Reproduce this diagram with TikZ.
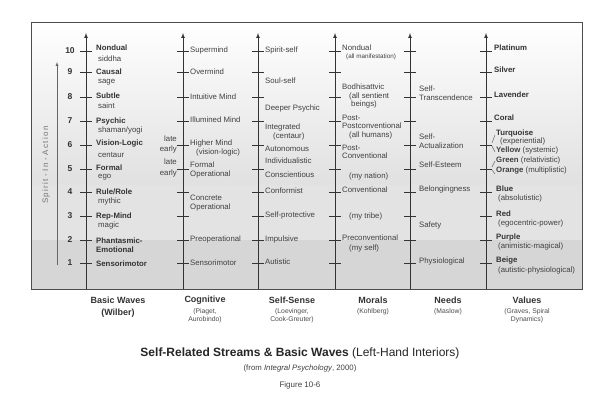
\documentclass[tikz,border=0pt]{standalone}
\usepackage{fontspec}
\setmainfont{Liberation Sans}
\begin{document}
\begin{tikzpicture}[x=1pt,y=-1pt,
  lab/.style={font=\fontsize{7.8}{8.6}\selectfont,text=black!75,anchor=west,inner sep=0pt,align=left},
  blab/.style={font=\bfseries\fontsize{7.8}{9.2}\selectfont,text=black!80,anchor=west,inner sep=0pt,align=left},
  small/.style={font=\fontsize{6.3}{7}\selectfont,text=black!75,anchor=west,inner sep=0pt,align=left},
  axis/.style={draw=black!80,line width=0.7pt,-latex},
  tk/.style={draw=black!80,line width=0.5pt},
  hd/.style={font=\bfseries\fontsize{9}{10}\selectfont,text=black!80,inner sep=0pt,align=center},
  sub/.style={font=\fontsize{6.8}{7.8}\selectfont,text=black!70,inner sep=0pt,align=center}]
\useasboundingbox (0,0) rectangle (600,403);
\fill[white] (0,0) rectangle (600,403);
% background
\shade[top color=white,bottom color=black!12] (31,22) rectangle (582,185);
\fill[black!11] (31,185) rectangle (582,240);
\fill[black!16] (31,240) rectangle (582,289);
\draw[black!70,line width=0.6pt] (31,22) rectangle (582,289);
% Spirit-in-Action
\draw[black!60,-latex] (57,265) -- (57,62);
\node[rotate=90,font=\fontsize{8}{8}\selectfont,text=black!55] (sia) at (46,165) {S\,p\,i\,r\,i\,t\,\,-\,\,I\,n\,\,-\,\,A\,c\,t\,i\,o\,n};
% axes
\foreach \x/\n in {86/a,183/b,258/c,335/d,410/e,486/f}{
  \coordinate (\n0) at (\x,289); \coordinate (\n1) at (\x,33);
  \draw[axis] (\n0) -- (\n1);
  \foreach \y in {51,72,97,121,145,169,192,216,240,263}{\draw[tk] (\x-6,\y) -- (\x+6,\y);}
}
% numbers
\foreach \y/\v in {51/10,72/9,97/8,121/7,145/6,169/5,192/4,216/3,240/2,263/1}{
  \node[font=\bfseries\fontsize{8.5}{9}\selectfont,text=black!80] at (70,\y) {\v};}
% basic waves
\node[blab] at (96,48) {Nondual}; \node[lab] at (98,59) {siddha};
\node[blab] at (96,72) {Causal}; \node[lab] at (98,82) {sage};
\node[blab] at (96,96) {Subtle}; \node[lab] at (98,106) {saint};
\node[blab] at (96,121) {Psychic}; \node[lab] at (98,130) {shaman/yogi};
\node[blab] at (96,144) {Vision-Logic}; \node[lab] at (98,155) {centaur};
\node[blab] at (96,168) {Formal}; \node[lab] at (98,177) {ego};
\node[blab] at (96,192) {Rule/Role}; \node[lab] at (98,201) {mythic};
\node[blab] at (96,216) {Rep-Mind}; \node[lab] at (98,225) {magic};
\node[blab] at (96,245) {Phantasmic-\\Emotional};
\node[blab] at (96,264) {Sensorimotor};
% cognitive
\node[lab] at (190,50) {Supermind};
\node[lab] at (190,72) {Overmind};
\node[lab] at (190,97) {Intuitive Mind};
\node[lab] at (190,120) {Illumined Mind};
\node[lab] at (190,148) {Higher Mind\\\hspace*{6pt}(vision-logic)};
\node[lab] at (190,170) {Formal\\Operational};
\node[lab] at (190,203) {Concrete\\Operational};
\node[lab] at (190,239) {Preoperational};
\node[lab] at (190,263) {Sensorimotor};
\foreach \y/\t in {139/late,149/early,162/late,173/early}{\node[lab,anchor=east] at (177,\y) {\t};}
% self-sense
\node[lab] at (265,50) {Spirit-self};
\node[lab] at (265,81) {Soul-self};
\node[lab] at (265,108) {Deeper Psychic};
\node[lab] at (265,132) {Integrated\\\hspace*{8pt}(centaur)};
\node[lab] at (265,149) {Autonomous};
\node[lab] at (265,161) {Individualistic};
\node[lab] at (265,175) {Conscientious};
\node[lab] at (265,191) {Conformist};
\node[lab] at (265,215) {Self-protective};
\node[lab] at (265,239) {Impulsive};
\node[lab] at (265,262) {Autistic};
% morals
\node[lab] at (342,48) {Nondual}; \node[small] at (346,57) {(all manifestation)};
\node[lab] at (342,96) {Bodhisattvic\\\hspace*{7pt}(all sentient\\\hspace*{9pt}beings)};
\node[lab] at (342,127) {Post-\\Postconventional\\\hspace*{7pt}(all humans)};
\node[lab] at (342,152) {Post-\\Conventional};
\node[lab] at (349,176) {(my nation)};
\node[lab] at (342,190) {Conventional};
\node[lab] at (349,216) {(my tribe)};
\node[lab] at (342,238) {Preconventional};
\node[lab] at (349,248) {(my self)};
% needs
\node[lab] at (419,93) {Self-\\Transcendence};
\node[lab] at (419,141) {Self-\\Actualization};
\node[lab] at (419,165) {Self-Esteem};
\node[lab] at (419,189) {Belongingness};
\node[lab] at (419,225) {Safety};
\node[lab] at (419,261) {Physiological};
% values
\node[blab] at (494,48) {Platinum};
\node[blab] at (494,70) {Silver};
\node[blab] at (494,95) {Lavender};
\node[blab] at (494,118) {Coral};
\node[blab] at (496,133) {Turquoise}; \node[lab] at (500,141) {(experiential)};
\node[lab] at (496,150) {\textbf{Yellow} (systemic)};
\node[lab] at (496,160) {\textbf{Green} (relativistic)};
\node[lab] at (496,171) {\textbf{Orange} (multiplistic)};
\node[blab] at (496,189) {Blue}; \node[lab] at (498,198) {(absolutistic)};
\node[blab] at (496,214) {Red}; \node[lab] at (498,223) {(egocentric-power)};
\node[blab] at (496,237) {Purple}; \node[lab] at (498,246) {(animistic-magical)};
\node[blab] at (496,261) {Beige}; \node[lab] at (498,270) {(autistic-physiological)};
\draw[tk,black!60] (492,143) -- (495,135); \draw[tk,black!60] (492,146) -- (495,152);
\draw[tk,black!60] (492,167) -- (495,161); \draw[tk,black!60] (492,170) -- (495,174);
% column headings
\node[hd] at (118,300) {Basic Waves}; \node[hd] at (118,313) {(Wilber)};
\node[hd] at (205,300) {Cognitive}; \node[sub] at (205,316) {(Piaget,\\Aurobindo)};
\node[hd] at (292,300) {Self-Sense}; \node[sub] at (292,316) {(Loevinger,\\Cook-Greuter)};
\node[hd] at (373,300) {Morals}; \node[sub] at (373,312) {(Kohlberg)};
\node[hd] at (448,300) {Needs}; \node[sub] at (448,312) {(Maslow)};
\node[hd] at (527,300) {Values}; \node[sub] at (527,316) {(Graves, Spiral\\Dynamics)};
% title
\node[font=\fontsize{12}{14}\selectfont,text=black!85] at (300,353) {\textbf{Self-Related Streams \& Basic Waves} (Left-Hand Interiors)};
\node[font=\fontsize{7.8}{9}\selectfont,text=black!75] at (300,368) {(from \textit{Integral Psychology}, 2000)};
\node[font=\fontsize{8}{9}\selectfont,text=black!75] at (300,385) {Figure 10-6};
\end{tikzpicture}
\end{document}
